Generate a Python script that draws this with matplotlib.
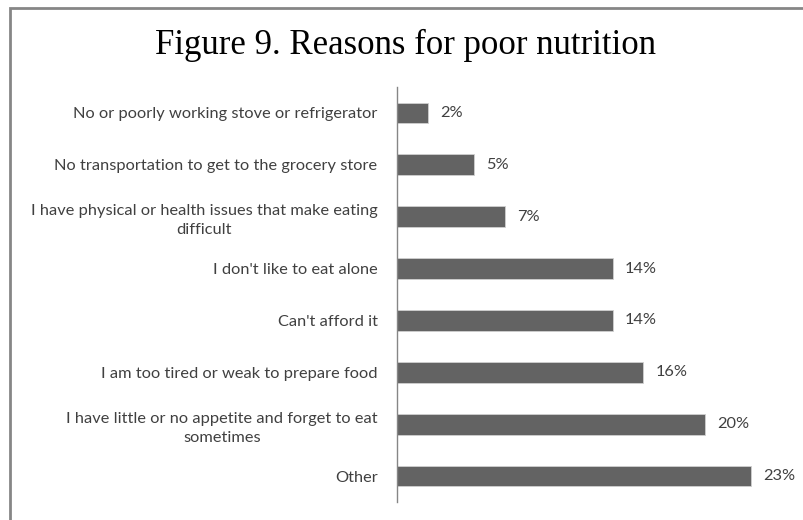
import numpy as np
import matplotlib.pyplot as plt
from matplotlib.patches import Rectangle

reasons = [
    "No or poorly working stove or refrigerator",
    "No transportation to get to the grocery store",
    "I have physical or health issues that make eating\ndifficult",
    "I don't like to eat alone",
    "Can't afford it",
    "I am too tired or weak to prepare food",
    "I have little or no appetite and forget to eat\nsometimes",
    "Other",
]
percents = [2, 5, 7, 14, 14, 16, 20, 23]

fig = plt.figure(figsize=(8.04, 5.2), dpi=100)
ax = fig.add_axes([397 / 804, 18 / 520, 385 / 804, 415 / 520])

y = np.arange(len(reasons))
ax.barh(y, percents, height=0.4, color="#636363", edgecolor="#d0d0d0", linewidth=0.6)
for yi, v in zip(y, percents):
    ax.annotate(f"{v}%", (v, yi), xytext=(9, 0), textcoords="offset points",
                va="center", ha="left", fontsize=11.8, family="Lato",
                color="#404040")

ax.set_yticks(y)
ax.set_yticklabels(reasons, fontsize=11.8, family="Lato", color="#404040",
                   ha="right", multialignment="center", linespacing=1.45)
ax.tick_params(axis="y", length=0, pad=14)
ax.set_ylim(len(reasons) - 0.5, -0.5)
ax.set_xlim(0, 25)
ax.set_xticks([])
for s in ["top", "right", "bottom"]:
    ax.spines[s].set_visible(False)
ax.spines["left"].set_color("#868686")
ax.spines["left"].set_linewidth(1.0)

fig.text(406 / 804, 1 - 45 / 520, "Figure 9. Reasons for poor nutrition",
         ha="center", va="center", fontsize=25, family="Liberation Serif",
         color="black")

# outer frame (only left and top edges fall inside the image)
fig.patches.append(Rectangle((10 / 804, -0.2), 1.2, 1.2 - 8 / 520,
                             transform=fig.transFigure, fill=False,
                             edgecolor="#868686", linewidth=2))

fig.savefig("out.png", dpi=100)
